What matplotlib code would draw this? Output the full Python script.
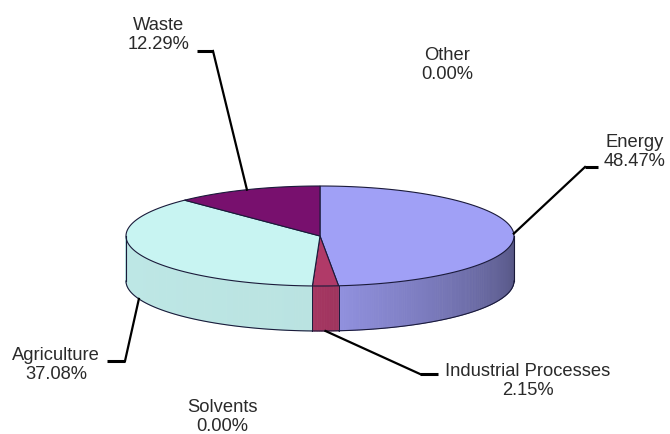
import numpy as np
import matplotlib
matplotlib.use("Agg")
import matplotlib.pyplot as plt
from matplotlib.patches import Polygon

plt.rcParams['font.family'] = ['Liberation Sans', 'DejaVu Sans']

categories = ["Energy", "Industrial Processes", "Solvents", "Agriculture", "Waste", "Other"]
values = [48.47, 2.15, 0.00, 37.08, 12.29, 0.00]
colors = ["#a0a0f6", "#b03a68", "#ffffcc", "#c8f4f2", "#78106e", "#ff8080"]

# label layout in pixel space: (text x, text y, tick near-text x, tick far x, tick y)
label_pos = {
    "Energy": (635, 152, 598, 585, 168),
    "Industrial Processes": (528, 381, 438, 420, 375),
    "Solvents": (222, 417, None, None, None),
    "Agriculture": (56, 365, 107, 125, 362),
    "Waste": (159, 35, 197, 213, 52),
    "Other": (447, 65, None, None, None),
}

W, H = 670, 435
fig = plt.figure(figsize=(W / 100, H / 100), dpi=100)
ax = fig.add_axes([0, 0, 1, 1])
ax.set_xlim(0, W)
ax.set_ylim(H, 0)
ax.axis("off")

cx, cy, rx, ry, depth = 320, 237, 194, 50, 45
edge = "#1a1a3a"


def pt(theta_deg):
    t = np.radians(theta_deg)
    return cx + rx * np.sin(t), cy - ry * np.cos(t)


def shade(theta):
    return np.interp(theta, [90, 120, 180, 270], [0.52, 0.64, 0.93, 0.95])


vals = np.array(values, dtype=float)
fracs = vals / vals.sum() * 360.0
starts = np.concatenate([[0], np.cumsum(fracs)[:-1]])
ends = starts + fracs

# side faces (front half, theta 90..270)
for s, e, c, v in zip(starts, ends, colors, vals):
    if v <= 0:
        continue
    a0, a1 = max(s, 90), min(e, 270)
    if a1 <= a0:
        continue
    base = np.array(matplotlib.colors.to_rgb(c))
    n = max(int((a1 - a0) / 0.7), 1)
    th = np.linspace(a0, a1, n + 1)
    for i in range(n):
        x0, y0 = pt(th[i])
        x1, y1 = pt(th[i + 1])
        f = shade(0.5 * (th[i] + th[i + 1]))
        col = np.clip(base * f, 0, 1)
        ax.add_patch(Polygon([(x0, y0), (x1, y1), (x1, y1 + depth), (x0, y0 + depth)],
                             closed=True, facecolor=col, edgecolor=col, lw=0.6))
    thf = np.linspace(a0, a1, 100)
    xs, ys = pt(thf)
    ax.plot(xs, ys + depth, color=edge, lw=0.8)
    for a in (a0, a1):
        if 90 < a < 270:
            x, y = pt(a)
            ax.plot([x, x], [y, y + depth], color=edge, lw=0.6)

for a in (90, 270):
    x, y = pt(a)
    ax.plot([x, x], [y, y + depth], color=edge, lw=0.8)

# top faces
for s, e, c, v in zip(starts, ends, colors, vals):
    if v <= 0:
        continue
    th = np.linspace(s, e, max(int(e - s) * 2, 4))
    xs, ys = pt(th)
    verts = [(cx, cy)] + list(zip(xs, ys))
    ax.add_patch(Polygon(verts, closed=True, facecolor=c, edgecolor=edge, lw=0.8))

# labels and leader lines
for name, v, s, e in zip(categories, vals, starts, ends):
    tx, ty, k_near, k_far, ky = label_pos[name]
    ax.text(tx, ty, f"{name}\n{v:.2f}%", ha="center", va="center", fontsize=13.2,
            color="#2a2a2a", linespacing=1.12)
    if k_near is None:
        continue
    mid = 0.5 * (s + e)
    px, py = pt(mid)
    if 90 < mid < 270:
        py += depth
    ax.plot([k_near, k_far], [ky, ky], color="black", lw=2.2, solid_capstyle="butt")
    ax.plot([k_far, px], [ky, py], color="black", lw=1.6)

fig.savefig("out.png", dpi=100, facecolor="white")
